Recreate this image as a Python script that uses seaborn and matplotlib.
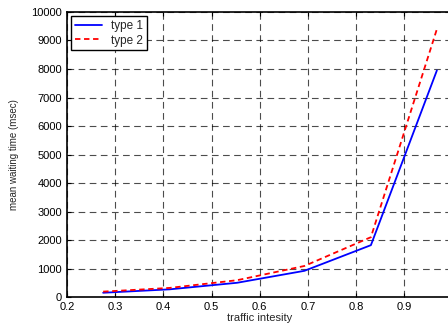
import matplotlib
matplotlib.use("Agg")
import matplotlib.pyplot as plt
import seaborn as sns
import pandas as pd

traffic = [0.275, 0.413, 0.553, 0.693, 0.831, 0.968]
type1 = [150, 270, 500, 920, 1820, 7950]
type2 = [190, 320, 590, 1090, 2100, 9400]
xticks = [0.2, 0.3, 0.4, 0.5, 0.6, 0.7, 0.8, 0.9]
yticks = list(range(0, 10001, 1000))

sns.set_style("ticks")
plt.rcParams['font.family'] = ['Liberation Sans', 'DejaVu Sans']

df = pd.DataFrame({"x": traffic * 2,
                   "y": type1 + type2,
                   "series": ["type 1"] * len(traffic) + ["type 2"] * len(traffic)})

fig = plt.figure(figsize=(4.48, 3.33), dpi=100)
ax = fig.add_axes([0.1496, 0.108, 0.86, 0.856])
sns.lineplot(data=df, x="x", y="y", hue="series", style="series",
             palette={"type 1": "#0000ff", "type 2": "#ff0000"},
             dashes={"type 1": "", "type 2": (3, 2)}, linewidth=1.3, ax=ax)
ax.set_xlim(0.2, 1.0)
ax.set_ylim(0, 10000)
ax.set_xticks(xticks)
ax.set_xticklabels([f"{t:g}" for t in xticks])
ax.set_yticks(yticks)
ax.set_yticklabels([str(t) for t in yticks])
ax.grid(True, color="black", linestyle=(0, (6, 4)), linewidth=0.8, alpha=0.7)
ax.tick_params(direction="in", top=True, right=True, labelsize=8, length=3, colors="black")
for s in ax.spines.values():
    s.set_linewidth(1.2)
    s.set_color("black")
ax.set_xlabel("traffic intesity", fontsize=8, labelpad=1)
ax.set_ylabel("mean waiting time (msec)", fontsize=7, labelpad=9)
leg = ax.legend(loc="upper left", fontsize=8.5, frameon=True, fancybox=False,
                edgecolor="black", framealpha=1, handlelength=2.3,
                borderaxespad=0.35, borderpad=0.3, labelspacing=0.25)
leg.get_frame().set_linewidth(1.0)
fig.savefig("out.png", dpi=100)
